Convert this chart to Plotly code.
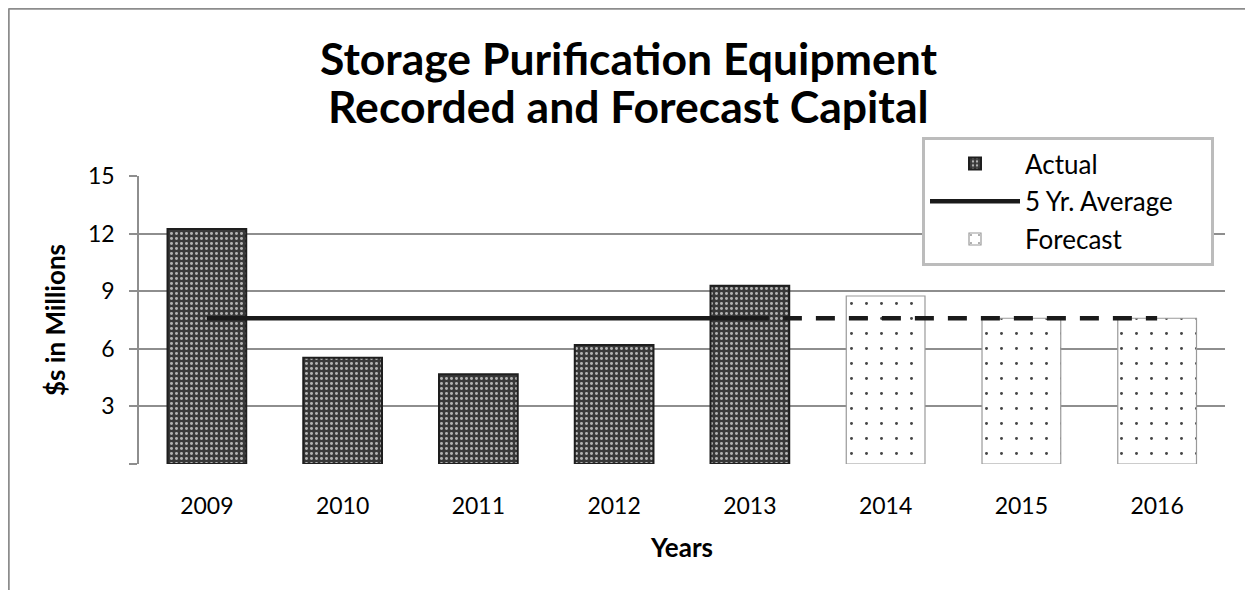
import plotly.graph_objects as go

years_actual = ['2009', '2010', '2011', '2012', '2013']
actual = [12.24, 5.54, 4.67, 6.2, 9.29]
years_forecast = ['2014', '2015', '2016']
forecast = [8.75, 7.59, 7.59]
avg_years_solid = ['2009', '2010', '2011', '2012', '2013']
avg_years_dash = ['2013', '2014', '2015', '2016']
five_yr_avg = 7.59

all_years = years_actual + years_forecast
y_ticks = [0, 3, 6, 9, 12, 15]
y_ticktext = ['', '3', '6', '9', '12', '15']

FONT = 'Lato'
NB = '\u00a0'

# the page body has an 8px margin, so the figure is drawn 8px in from the corner
W, H = 1245, 582
L, R, T, B = 131, 28, 168, 126
PW, PH = W - L - R, H - T - B


def px_x(x):
    return (x - L) / PW


def px_y(y):
    return (H - B - y) / PH


fig = go.Figure()

fig.add_trace(go.Bar(
    x=years_actual, y=actual, name='Actual',
    legendgroup='a',
    marker=dict(
        color='#383838',
        line=dict(color='#1e1e1e', width=2),
        pattern=dict(shape='.', bgcolor='#383838', fgcolor='#b4b4b4',
                     size=5, solidity=0.28, fillmode='replace'),
    ),
))

fig.add_trace(go.Scatter(
    x=avg_years_solid, y=[five_yr_avg] * len(avg_years_solid),
    mode='lines', name='5 Yr. Average' + NB * 5, legendgroup='b',
    line=dict(color='#1a1a1a', width=4.5),
))

fig.add_trace(go.Bar(
    x=years_forecast, y=forecast, name='Forecast',
    legendgroup='c',
    marker=dict(
        color='white',
        line=dict(color='#9a9a9a', width=1.2),
        pattern=dict(shape='.', bgcolor='white', fgcolor='#444444',
                     size=15, solidity=0.03, fillmode='replace'),
    ),
))

fig.add_trace(go.Scatter(
    x=avg_years_dash, y=[five_yr_avg] * len(avg_years_dash),
    mode='lines', showlegend=False,
    line=dict(color='#1a1a1a', width=4.5, dash='19px,14px'),
))

# outer chart frame (top and left edges)
fig.add_shape(type='line', xref='paper', yref='paper',
              x0=px_x(0.5), x1=px_x(W), y0=px_y(0.5), y1=px_y(0.5),
              line=dict(color='#8c8c8c', width=2.5))
fig.add_shape(type='line', xref='paper', yref='paper',
              x0=px_x(0.5), x1=px_x(0.5), y0=px_y(0.5), y1=px_y(H),
              line=dict(color='#8c8c8c', width=2.5))

# two-line chart title
fig.add_annotation(text='<b>Storage Purification Equipment</b>',
                   xref='paper', yref='paper', x=px_x(620), y=px_y(49),
                   xanchor='center', yanchor='middle', showarrow=False,
                   font=dict(family=FONT, size=44.5, color='#000000'))
fig.add_annotation(text='<b>Recorded and Forecast Capital</b>',
                   xref='paper', yref='paper', x=px_x(620), y=px_y(97),
                   xanchor='center', yanchor='middle', showarrow=False,
                   font=dict(family=FONT, size=44.5, color='#000000'))

fig.update_layout(
    width=W, height=H,
    margin=dict(l=L, r=R, t=T, b=B),
    paper_bgcolor='white', plot_bgcolor='white',
    font=dict(family=FONT, color='#000000', size=23),
    barmode='overlay', bargap=0.42,
    legend=dict(
        x=px_x(914), y=px_y(129), xanchor='left', yanchor='top',
        bgcolor='white', bordercolor='#bcbcbc', borderwidth=3,
        font=dict(family=FONT, size=26, color='#000000'),
        traceorder='grouped', tracegroupgap=1,
        itemwidth=90,
    ),
    xaxis=dict(
        type='category', categoryorder='array', categoryarray=all_years,
        showgrid=False, showline=False, ticks='', automargin=False,
        ticklabelstandoff=26,
        tickfont=dict(size=23),
        title=dict(text='<b>Years</b>', font=dict(size=26), standoff=20),
    ),
    yaxis=dict(
        range=[0, 15], tickvals=y_ticks, ticktext=y_ticktext,
        showgrid=True, gridcolor='#8e8e8e', gridwidth=1.6,
        showline=True, linecolor='#8e8e8e', linewidth=1.6,
        ticks='outside', ticklen=8, tickcolor='#8e8e8e', tickwidth=1.6,
        ticklabelstandoff=10, automargin=False,
        zeroline=False,
        tickfont=dict(size=23),
        title=dict(text='<b>$s in Millions</b>', font=dict(size=26), standoff=15),
    ),
)

fig.write_html('out.html')
